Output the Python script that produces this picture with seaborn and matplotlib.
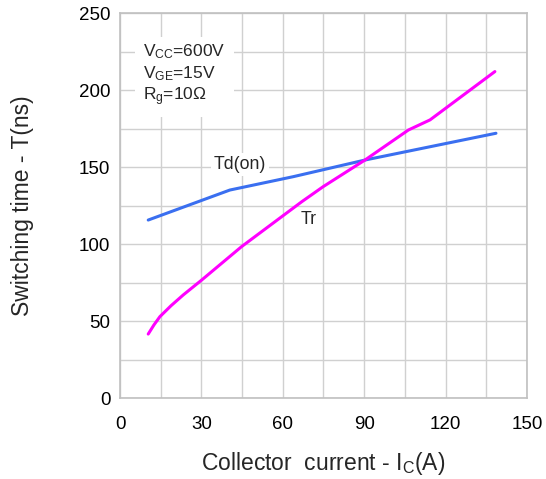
import numpy as np
import pandas as pd
import matplotlib
matplotlib.use("Agg")
import matplotlib.pyplot as plt
import seaborn as sns

# Data
td_on_x = [10.4, 40.5, 63.9, 90.3, 138.6]
td_on_y = [115.7, 135.2, 143.9, 154.7, 172.1]
tr_x = [10.4, 12.5, 14.7, 18.8, 23.3, 30.1, 44.8, 67.0, 74.9, 90.3, 106.3, 114.3, 138.2]
tr_y = [41.6, 47.5, 52.9, 60.0, 67.0, 76.7, 98.4, 127.6, 137.4, 154.7, 174.2, 180.8, 212.2]
x_ticks = [0, 30, 60, 90, 120, 150]
y_ticks = [0, 50, 100, 150, 200, 250]

sns.set_theme(style="white")
plt.rcParams['font.family'] = ['Liberation Sans', 'DejaVu Sans']
plt.rcParams['mathtext.default'] = 'regular'

df = pd.concat([
    pd.DataFrame({"Ic": td_on_x, "T": td_on_y, "series": "Td(on)"}),
    pd.DataFrame({"Ic": tr_x, "T": tr_y, "series": "Tr"}),
])

fig = plt.figure(figsize=(5.46, 4.79), dpi=100)
ax = fig.add_axes([0.2198, 0.169, 0.7452, 0.803])

sns.lineplot(data=df, x="Ic", y="T", hue="series", sort=False, estimator=None,
             palette={"Td(on)": "#3a6ff0", "Tr": "#ff00ff"}, linewidth=2.2,
             legend=False, ax=ax, zorder=3)

ax.set_xlim(0, 150)
ax.set_ylim(0, 250)
ax.set_xticks(x_ticks)
ax.set_yticks(y_ticks)
ax.set_xticks(np.arange(0, 151, 15), minor=True)
ax.set_yticks(np.arange(0, 251, 25), minor=True)
ax.grid(True, which='both', color='#d0d0d0', linewidth=1.0, linestyle='-')
ax.set_axisbelow(True)
ax.tick_params(axis='both', which='both', length=0, labelsize=13.5, colors='black')
ax.tick_params(axis='x', pad=13)
ax.tick_params(axis='y', pad=7)
for s in ax.spines.values():
    s.set_color('#c0c0c0')
    s.set_linewidth(1.2)

ax.set_xlabel("Collector  current - I$_C$(A)", fontsize=16.5, labelpad=12)
ax.set_ylabel("Switching time - T(ns)", fontsize=16.5, labelpad=32)

bbox = dict(facecolor='white', edgecolor='none', pad=2)
ax.text(8.5, 231, "V$_{CC}$=600V\nV$_{GE}$=15V\nR$_g$=10Ω", fontsize=12.5,
        va='top', ha='left', linespacing=1.2,
        bbox=dict(facecolor='white', edgecolor='none', pad=6), zorder=4)
ax.text(34.5, 152, "Td(on)", fontsize=12.7, ha='left', va='center', bbox=bbox, zorder=4)
ax.text(66.5, 116, "Tr", fontsize=12.7, ha='left', va='center', bbox=bbox, zorder=4)

fig.savefig("out.png", dpi=100)
